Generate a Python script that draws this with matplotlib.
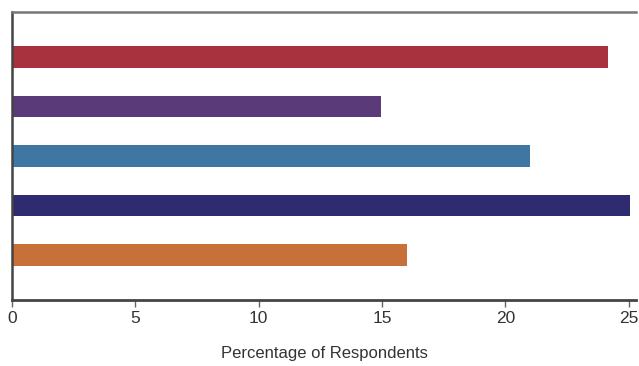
import matplotlib.pyplot as plt

plt.rcParams["font.family"] = ["Liberation Sans", "DejaVu Sans"]

# bars listed top to bottom
values = [24.15, 14.95, 21.0, 25.05, 16.0]
colors = ["#a8333f", "#5b3a7a", "#4077a2", "#2f2b70", "#c8703a"]
xticks = [0, 5, 10, 15, 20, 25]

fig = plt.figure(figsize=(6.39, 3.66), dpi=100)
ax = fig.add_axes([12 / 639, 66 / 366, 624 / 639, 288 / 366])

pos = list(range(len(values)))[::-1]
ax.barh(pos, values, height=0.43, color=colors)

ax.set_xlim(0, 25.3)
ax.set_ylim(-0.91, 4.91)
ax.set_yticks([])
ax.set_xticks(xticks)
ax.tick_params(axis="x", length=5, width=1, color="#666666", labelsize=12.5,
               labelcolor="#333333", pad=3)
ax.set_xlabel("Percentage of Respondents", fontsize=12, color="#333333", labelpad=14)

ax.spines["right"].set_visible(False)
ax.spines["left"].set_color("#444444")
ax.spines["left"].set_linewidth(1.8)
ax.spines["bottom"].set_color("#444444")
ax.spines["bottom"].set_linewidth(2)
ax.spines["top"].set_color("#777777")
ax.spines["top"].set_linewidth(1.8)

fig.savefig("out.png", dpi=100)
